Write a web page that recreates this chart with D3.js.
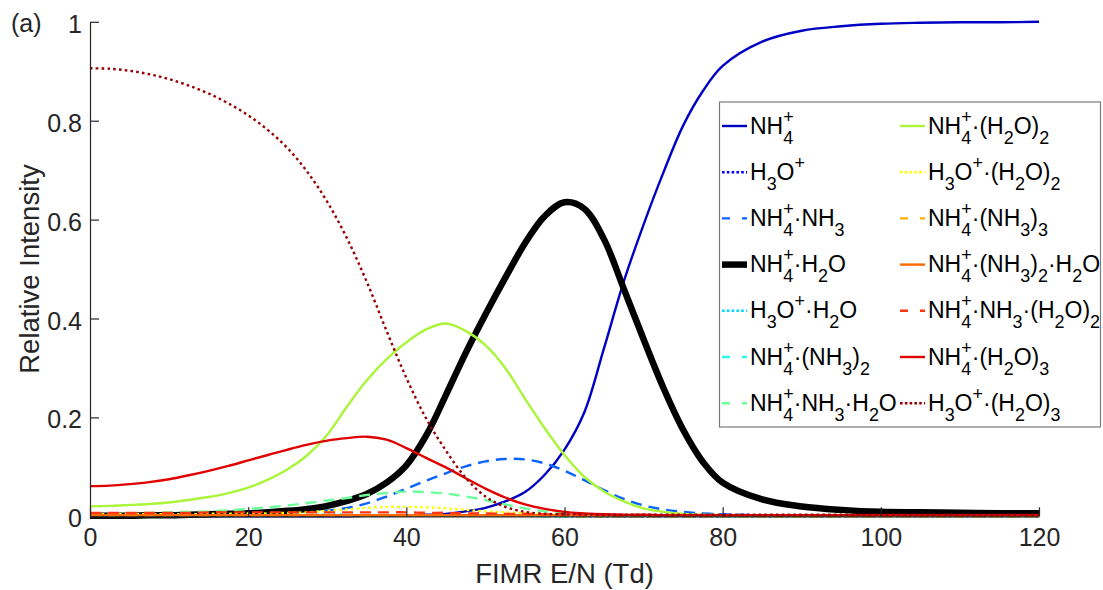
<!DOCTYPE html>
<html>
<head>
<meta charset="utf-8">
<script src="https://cdn.jsdelivr.net/npm/d3@7"></script>
<style>
  body { margin: 0; background: #fff; }
  text { font-family: Arial, "Liberation Sans", sans-serif; fill: #262626; }
</style>
</head>
<body>
<div class="container"></div>
<script>
// E/N grid (Td)
const en = [0, 2.5, 5, 7.5, 10, 12.5, 15, 17.5, 20, 22.5, 25, 27.5, 30, 32.5, 35, 37.5, 40, 42.5, 45, 47.5,
  50, 52.5, 55, 57.5, 60, 62.5, 65, 67.5, 70, 72.5, 75, 77.5, 80, 85, 90, 95, 100, 105, 110, 115, 120];

// relative intensities
const nh4 = [0, 0, 0, 0, 0, 0, 0, 0, 0, 0, 0, 0, 0, 0, 0.001, 0.001, 0.002, 0.003, 0.005, 0.010,
  0.017, 0.030, 0.049, 0.084, 0.135, 0.210, 0.340, 0.475, 0.590, 0.695, 0.790, 0.860, 0.911, 0.960, 0.982, 0.991, 0.996, 0.998, 0.999, 0.999, 1.000];
const h3o = [0.002, 0.002, 0.002, 0.002, 0.002, 0.002, 0.002, 0.002, 0.002, 0.002, 0.002, 0.002, 0.002, 0.002, 0.001, 0.001, 0.001, 0.001, 0.001, 0.001,
  0.001, 0.001, 0.001, 0.001, 0.001, 0, 0, 0, 0, 0, 0, 0, 0, 0, 0, 0, 0, 0, 0, 0, 0];
const nh4nh3 = [0.004, 0.004, 0.004, 0.004, 0.004, 0.005, 0.005, 0.006, 0.006, 0.007, 0.008, 0.010, 0.012, 0.017, 0.026, 0.040, 0.056, 0.072, 0.087, 0.101,
  0.111, 0.116, 0.115, 0.107, 0.092, 0.073, 0.053, 0.035, 0.022, 0.014, 0.009, 0.006, 0.004, 0.002, 0.001, 0.001, 0.001, 0.001, 0.001, 0.001, 0.001];
const nh4h2o = [0.001, 0.001, 0.001, 0.002, 0.002, 0.003, 0.004, 0.005, 0.006, 0.008, 0.011, 0.015, 0.021, 0.031, 0.045, 0.068, 0.103, 0.163, 0.245, 0.330,
  0.408, 0.482, 0.552, 0.607, 0.635, 0.622, 0.560, 0.460, 0.358, 0.260, 0.175, 0.110, 0.068, 0.034, 0.020, 0.013, 0.009, 0.008, 0.007, 0.006, 0.006];
const h3oh2o = [0.003, 0.003, 0.003, 0.003, 0.003, 0.003, 0.003, 0.003, 0.003, 0.003, 0.003, 0.003, 0.003, 0.003, 0.002, 0.002, 0.002, 0.001, 0.001, 0.001,
  0.001, 0.001, 0.001, 0, 0, 0, 0, 0, 0, 0, 0, 0, 0, 0, 0, 0, 0, 0, 0, 0, 0];
const nh4nh3x2 = [0.001, 0.001, 0.001, 0.001, 0.001, 0.001, 0.001, 0.001, 0.001, 0.001, 0.001, 0.001, 0.002, 0.002, 0.002, 0.002, 0.002, 0.002, 0.002, 0.001,
  0.001, 0.001, 0.001, 0, 0, 0, 0, 0, 0, 0, 0, 0, 0, 0, 0, 0, 0, 0, 0, 0, 0];
const nh4nh3h2o = [0.005, 0.005, 0.006, 0.007, 0.008, 0.009, 0.010, 0.012, 0.015, 0.018, 0.022, 0.027, 0.032, 0.037, 0.043, 0.047, 0.050, 0.049, 0.046, 0.040,
  0.033, 0.024, 0.016, 0.010, 0.006, 0.004, 0.003, 0.002, 0.002, 0.001, 0.001, 0.001, 0.001, 0, 0, 0, 0, 0, 0, 0, 0];
const nh4h2ox2 = [0.020, 0.021, 0.023, 0.025, 0.028, 0.033, 0.039, 0.047, 0.058, 0.074, 0.095, 0.124, 0.165, 0.222, 0.275, 0.318, 0.352, 0.378, 0.390, 0.375,
  0.346, 0.300, 0.238, 0.178, 0.124, 0.080, 0.050, 0.030, 0.016, 0.009, 0.005, 0.003, 0.002, 0.001, 0.001, 0.001, 0.001, 0.001, 0.001, 0.001, 0.001];
const h3oh2ox2 = [0.004, 0.004, 0.004, 0.004, 0.004, 0.004, 0.005, 0.005, 0.006, 0.006, 0.007, 0.008, 0.011, 0.014, 0.017, 0.019, 0.019, 0.018, 0.016, 0.013,
  0.010, 0.008, 0.006, 0.004, 0.003, 0.002, 0.001, 0.001, 0.001, 0.001, 0.001, 0.001, 0.001, 0.001, 0.001, 0.001, 0.001, 0.001, 0.001, 0.001, 0.001];
const nh4nh3x3 = [0.001, 0.001, 0.001, 0.001, 0.001, 0.001, 0.001, 0.001, 0.001, 0.001, 0.001, 0.001, 0.001, 0.001, 0.001, 0.001, 0.001, 0.001, 0.001, 0.001,
  0.001, 0.001, 0.001, 0.001, 0.001, 0, 0, 0, 0, 0, 0, 0, 0, 0, 0, 0, 0, 0, 0, 0, 0];
const nh4nh3x2h2o = [0.002, 0.002, 0.002, 0.002, 0.002, 0.002, 0.002, 0.002, 0.002, 0.002, 0.002, 0.002, 0.002, 0.002, 0.002, 0.002, 0.002, 0.002, 0.002, 0.002,
  0.002, 0.002, 0.002, 0.002, 0.002, 0.002, 0.002, 0.002, 0.002, 0.002, 0.002, 0.002, 0.002, 0.002, 0.002, 0.002, 0.002, 0.002, 0.002, 0.002, 0.002];
const nh4nh3h2ox2 = [0.007, 0.007, 0.007, 0.007, 0.007, 0.007, 0.008, 0.008, 0.008, 0.008, 0.008, 0.008, 0.008, 0.008, 0.008, 0.008, 0.008, 0.007, 0.007, 0.006,
  0.006, 0.005, 0.005, 0.004, 0.004, 0.003, 0.003, 0.002, 0.002, 0.002, 0.002, 0.002, 0.002, 0.002, 0.002, 0.002, 0.002, 0.002, 0.002, 0.002, 0.002];
const nh4h2ox3 = [0.061, 0.062, 0.065, 0.069, 0.075, 0.083, 0.092, 0.102, 0.113, 0.124, 0.135, 0.145, 0.153, 0.158, 0.161, 0.155, 0.138, 0.118, 0.099, 0.077,
  0.056, 0.038, 0.024, 0.015, 0.009, 0.006, 0.004, 0.003, 0.003, 0.002, 0.002, 0.002, 0.002, 0.002, 0.002, 0.002, 0.002, 0.002, 0.002, 0.002, 0.002];
const h3oh2ox3 = [0.906, 0.905, 0.901, 0.894, 0.884, 0.871, 0.855, 0.835, 0.811, 0.781, 0.744, 0.696, 0.636, 0.562, 0.474, 0.375, 0.280, 0.198, 0.133, 0.078,
  0.040, 0.019, 0.009, 0.005, 0.004, 0.004, 0.003, 0.003, 0.003, 0.003, 0.003, 0.003, 0.003, 0.003, 0.003, 0.003, 0.003, 0.003, 0.003, 0.003, 0.003];

const labels = ['NH_4^+', 'H_3O^+', 'NH_4^+·NH_3', 'NH_4^+·H_2O', 'H_3O^+·H_2O', 'NH_4^+·(NH_3)_2', 'NH_4^+·NH_3·H_2O',
  'NH_4^+·(H_2O)_2', 'H_3O^+·(H_2O)_2', 'NH_4^+·(NH_3)_3', 'NH_4^+·(NH_3)_2·H_2O', 'NH_4^+·NH_3·(H_2O)_2', 'NH_4^+·(H_2O)_3', 'H_3O^+·(H_2O)_3'];
const xTicks = [0, 20, 40, 60, 80, 100, 120];
const yTicks = [0, 0.2, 0.4, 0.6, 0.8, 1];

const values = [nh4, h3o, nh4nh3, nh4h2o, h3oh2o, nh4nh3x2, nh4nh3h2o,
  nh4h2ox2, h3oh2ox2, nh4nh3x3, nh4nh3x2h2o, nh4nh3h2ox2, nh4h2ox3, h3oh2ox3];
const colors = ['#0000c4', '#0000ff', '#0a62ff', '#000000', '#00d8ff', '#33f5e0', '#6cff98',
  '#aaf53a', '#ffff00', '#ffae00', '#ff6a00', '#ff3410', '#e00000', '#960000'];
const styles = ['solid', 'dot', 'dash', 'solid', 'dot', 'dash', 'dash',
  'solid', 'dot', 'dash', 'solid', 'dash', 'solid', 'dot'];

const width = 1103;
const height = 590;

const x = d3.scaleLinear().domain([0, 120]).range([90, 1039]);
const y = d3.scaleLinear().domain([0, 1]).range([516.3, 21.8]);

const svg = d3.select('.container')
  .append('svg')
  .attr('width', width)
  .attr('height', height);

const dashFor = s => (s === 'dash' ? '11,7' : s === 'dot' ? '2.6,3.2' : null);

const line = d3.line()
  .x((d, i) => x(en[i]))
  .y(d => y(d))
  .curve(d3.curveCatmullRom.alpha(0.5));

// curves
svg.append('g')
  .selectAll('path')
  .data(values)
  .join('path')
  .attr('d', line)
  .attr('fill', 'none')
  .attr('stroke', (_, i) => colors[i])
  .attr('stroke-width', (_, i) => (i === 3 ? 6.5 : 2.4))
  .attr('stroke-dasharray', (_, i) => dashFor(styles[i]));

// axes, ticks inside
const xAxis = svg.append('g')
  .attr('transform', `translate(0,${y(0)})`)
  .call(d3.axisBottom(x).tickValues(xTicks).tickSize(-9).tickSizeOuter(0).tickPadding(12));
const yAxis = svg.append('g')
  .attr('transform', `translate(${x(0)},0)`)
  .call(d3.axisLeft(y).tickValues(yTicks).tickSize(-9).tickSizeOuter(0).tickPadding(8).tickFormat(d3.format('~g')));

[xAxis, yAxis].forEach(a => {
  a.select('.domain').attr('stroke', '#262626').attr('stroke-width', 1.2);
  a.selectAll('.tick line').attr('stroke', '#262626').attr('stroke-width', 1.2);
  a.selectAll('.tick text')
    .attr('fill', '#262626')
    .style('font-size', '25px')
    .style('font-family', 'Arial, "Liberation Sans", sans-serif');
});
yAxis.selectAll('.tick text').attr('dy', '0.42em');

svg.append('text')
  .attr('x', (x(0) + x(120)) / 2)
  .attr('y', 583)
  .attr('text-anchor', 'middle')
  .style('font-size', '27.5px')
  .text('FIMR E/N (Td)');

svg.append('text')
  .attr('transform', `translate(38.5,${(y(0) + y(1)) / 2}) rotate(-90)`)
  .attr('text-anchor', 'middle')
  .style('font-size', '27.5px')
  .text('Relative Intensity');

svg.append('text')
  .attr('x', 11)
  .attr('y', 31.5)
  .style('font-size', '25px')
  .text('(a)');

// rich text: _X subscript, ^X superscript, stacked when adjacent
function richText(g, x0, y0, str, size) {
  const parts = [];
  let buf = '';
  for (let i = 0; i < str.length; i++) {
    const c = str[i];
    if (c === '_' || c === '^') {
      if (buf) { parts.push({ t: buf }); buf = ''; }
      const sc = {};
      sc[c === '_' ? 'sub' : 'sup'] = str[i + 1];
      i++;
      if (str[i + 1] === '_' || str[i + 1] === '^') {
        sc[str[i + 1] === '_' ? 'sub' : 'sup'] = str[i + 2];
        i += 2;
      }
      parts.push(sc);
    } else {
      buf += c;
    }
  }
  if (buf) parts.push({ t: buf });

  let cx = x0;
  const small = size * 0.78;
  parts.forEach(p => {
    if (p.t) {
      const t = g.append('text').attr('x', cx).attr('y', y0).style('font-size', size + 'px').style('fill', '#000').text(p.t);
      cx += t.node().getComputedTextLength();
    } else {
      let w = 0;
      if (p.sup) {
        const t = g.append('text').attr('x', cx).attr('y', y0 - 11).style('font-size', small + 'px').style('fill', '#000').text(p.sup);
        w = Math.max(w, t.node().getComputedTextLength());
      }
      if (p.sub) {
        const t = g.append('text').attr('x', cx).attr('y', y0 + 10).style('font-size', small + 'px').style('fill', '#000').text(p.sub);
        w = Math.max(w, t.node().getComputedTextLength());
      }
      cx += w;
    }
  });
}

// legend
const legend = svg.append('g');
legend.append('rect')
  .attr('x', 719.5)
  .attr('y', 102)
  .attr('width', 381)
  .attr('height', 325)
  .attr('fill', '#fff')
  .attr('stroke', '#7a7a7a')
  .attr('stroke-width', 1.2);

const legendDash = s => (s === 'dash' ? '8,12' : s === 'dot' ? '2.6,2.2' : null);

labels.forEach((lab, i) => {
  const col = Math.floor(i / 7);
  const row = i % 7;
  const lx = col === 0 ? 722 : 900;
  const ly = 126 + row * 46.2;
  legend.append('line')
    .attr('x1', lx)
    .attr('x2', lx + 25)
    .attr('y1', ly)
    .attr('y2', ly)
    .attr('stroke', colors[i])
    .attr('stroke-width', i === 3 ? 6.5 : 2.4)
    .attr('stroke-dasharray', legendDash(styles[i]));
  richText(legend, lx + 28, ly + 7.5, lab, 23);
});
</script>
</body>
</html>
